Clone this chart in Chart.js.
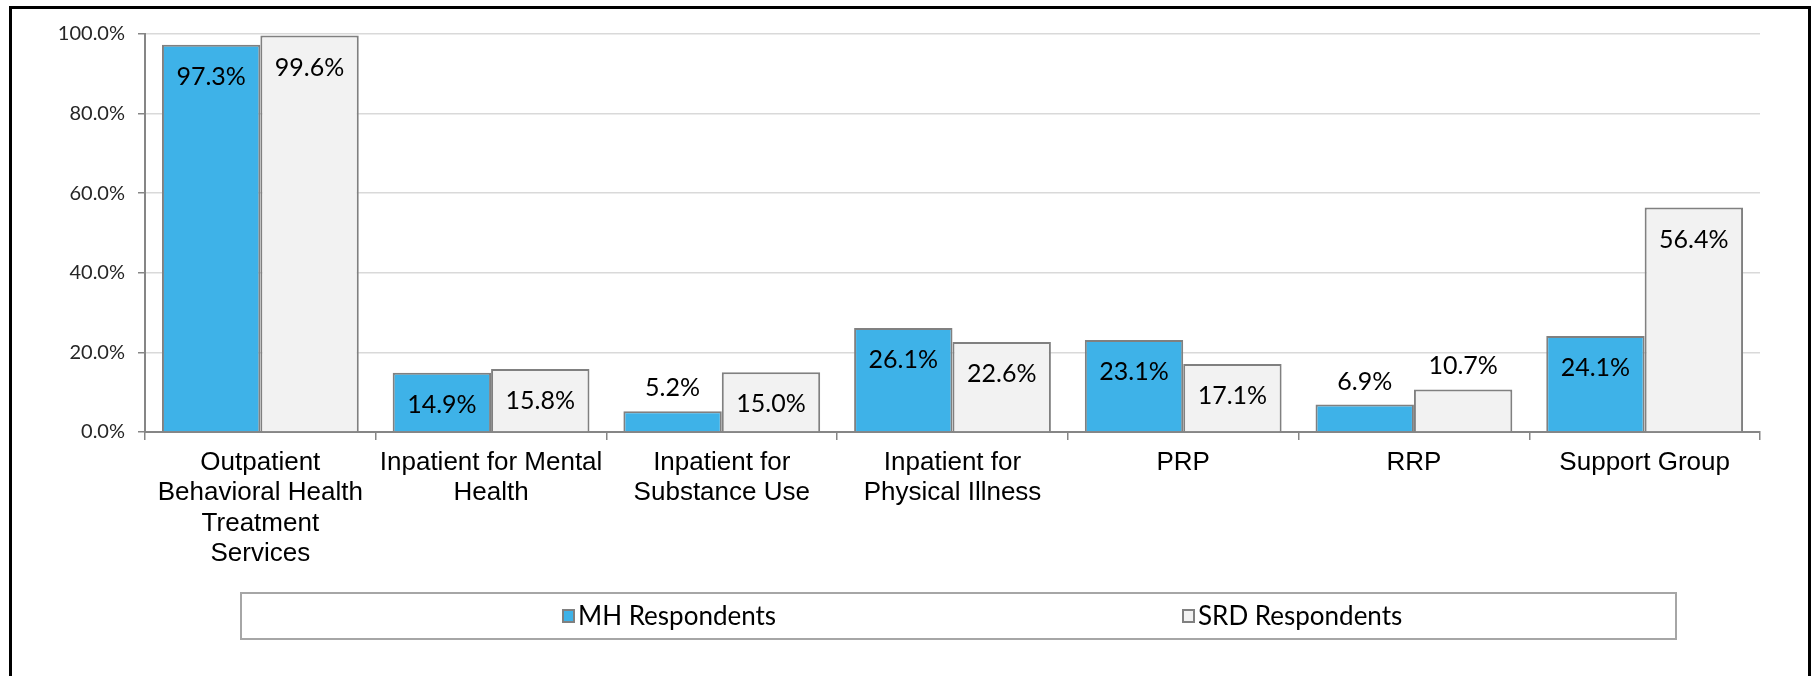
<!DOCTYPE html>
<html>
<head>
<meta charset="utf-8">
<script src="https://cdn.jsdelivr.net/npm/chart.js@4"></script>
<style>
  body { margin: 0; background: #fff; }
  #frame { position: absolute; left: 9px; top: 6px; width: 1796px; height: 700px; border: 3px solid #000; }
  #wrap { position: absolute; left: 0; top: 0; width: 1812px; height: 676px; }
</style>
</head>
<body>
<div id="frame"></div>
<div id="wrap"><canvas id="barChart" width="1812" height="676"></canvas></div>
<script>
// categories and values
const categories = [
  ["Outpatient", "Behavioral Health", "Treatment", "Services"],
  ["Inpatient for Mental", "Health"],
  ["Inpatient for", "Substance Use"],
  ["Inpatient for", "Physical Illness"],
  "PRP",
  "RRP",
  "Support Group",
];
const seriesNames = ["MH Respondents", "SRD Respondents"];
const mhValues = [97.3, 14.9, 5.2, 26.1, 23.1, 6.9, 24.1];
const srdValues = [99.6, 15.8, 15.0, 22.6, 17.1, 10.7, 56.4];
const yTicks = [0, 20, 40, 60, 80, 100];

const fills = ["#3EB2E8", "#F2F2F2"];
const edge = "#808080";

// value labels: inside the top of the bar when it fits, otherwise above
const valueLabels = {
  id: "valueLabels",
  afterDatasetsDraw(chart) {
    const ctx = chart.ctx;
    ctx.save();
    ctx.font = "25px Lato";
    ctx.fillStyle = "#000";
    ctx.textAlign = "center";
    ctx.textBaseline = "middle";
    chart.data.datasets.forEach((ds, i) => {
      chart.getDatasetMeta(i).data.forEach((bar, j) => {
        const h = bar.base - bar.y;
        const y = h > 50 ? bar.y + 32 : bar.y - 23;
        ctx.fillText(ds.data[j].toFixed(1) + "%", bar.x, y);
      });
    });
    ctx.restore();
  },
};

// legend in a bordered box under the axis
const boxedLegend = {
  id: "boxedLegend",
  afterDraw(chart) {
    const ctx = chart.ctx;
    const top = 593, height = 46;
    ctx.save();
    ctx.strokeStyle = "#A6A6A6";
    ctx.lineWidth = 2;
    ctx.strokeRect(241, top, 1435, height);
    const starts = [562, 1182];
    ctx.font = "26px Lato";
    ctx.textBaseline = "middle";
    ctx.fillStyle = "#000";
    chart.data.datasets.forEach((ds, i) => {
      const cy = top + height / 2;
      ctx.fillStyle = ds.backgroundColor;
      ctx.fillRect(starts[i], cy - 7, 13, 14);
      ctx.strokeStyle = edge;
      ctx.lineWidth = 2;
      ctx.strokeRect(starts[i] + 1, cy - 6, 11, 12);
      ctx.fillStyle = "#000";
      ctx.fillText(ds.label, starts[i] + 16, cy + 1);
    });
    ctx.restore();
  },
};

const ctx = document.getElementById("barChart").getContext("2d");
const barChart = new Chart(ctx, {
  type: "bar",
  data: {
    labels: categories,
    datasets: [
      { label: seriesNames[0], data: mhValues, backgroundColor: fills[0], borderColor: edge, borderWidth: 2 },
      { label: seriesNames[1], data: srdValues, backgroundColor: fills[1], borderColor: edge, borderWidth: 2 },
    ],
  },
  options: {
    responsive: false,
    animation: false,
    layout: { padding: { left: 0, right: 52, top: 34, bottom: 94 } },
    datasets: { bar: { categoryPercentage: 0.853, barPercentage: 1 } },
    plugins: { legend: { display: false }, tooltip: { enabled: false } },
    scales: {
      x: {
        grid: { offset: true, drawOnChartArea: false, tickLength: 8, color: "#868686", lineWidth: 1.5 },
        border: { color: "#868686", width: 2 },
        ticks: {
          color: "#000",
          padding: 8,
          maxRotation: 0,
          autoSkip: false,
          font: { family: "'Liberation Sans', Arial", size: 26, lineHeight: 1.16 },
        },
        afterFit(scale) { scale.height = 150; },
      },
      y: {
        min: 0,
        max: 100,
        afterBuildTicks(scale) { scale.ticks = yTicks.map(v => ({ value: v })); },
        grid: { color: "#D9D9D9", lineWidth: 1.5, tickLength: 7, tickColor: "#868686" },
        border: { color: "#868686", width: 2 },
        ticks: {
          color: "#262626",
          padding: 13,
          font: { family: "Lato", size: 20 },
          callback: v => v.toFixed(1) + "%",
        },
        afterFit(scale) { scale.width = 145; },
      },
    },
  },
  plugins: [valueLabels, boxedLegend],
});
</script>
</body>
</html>
